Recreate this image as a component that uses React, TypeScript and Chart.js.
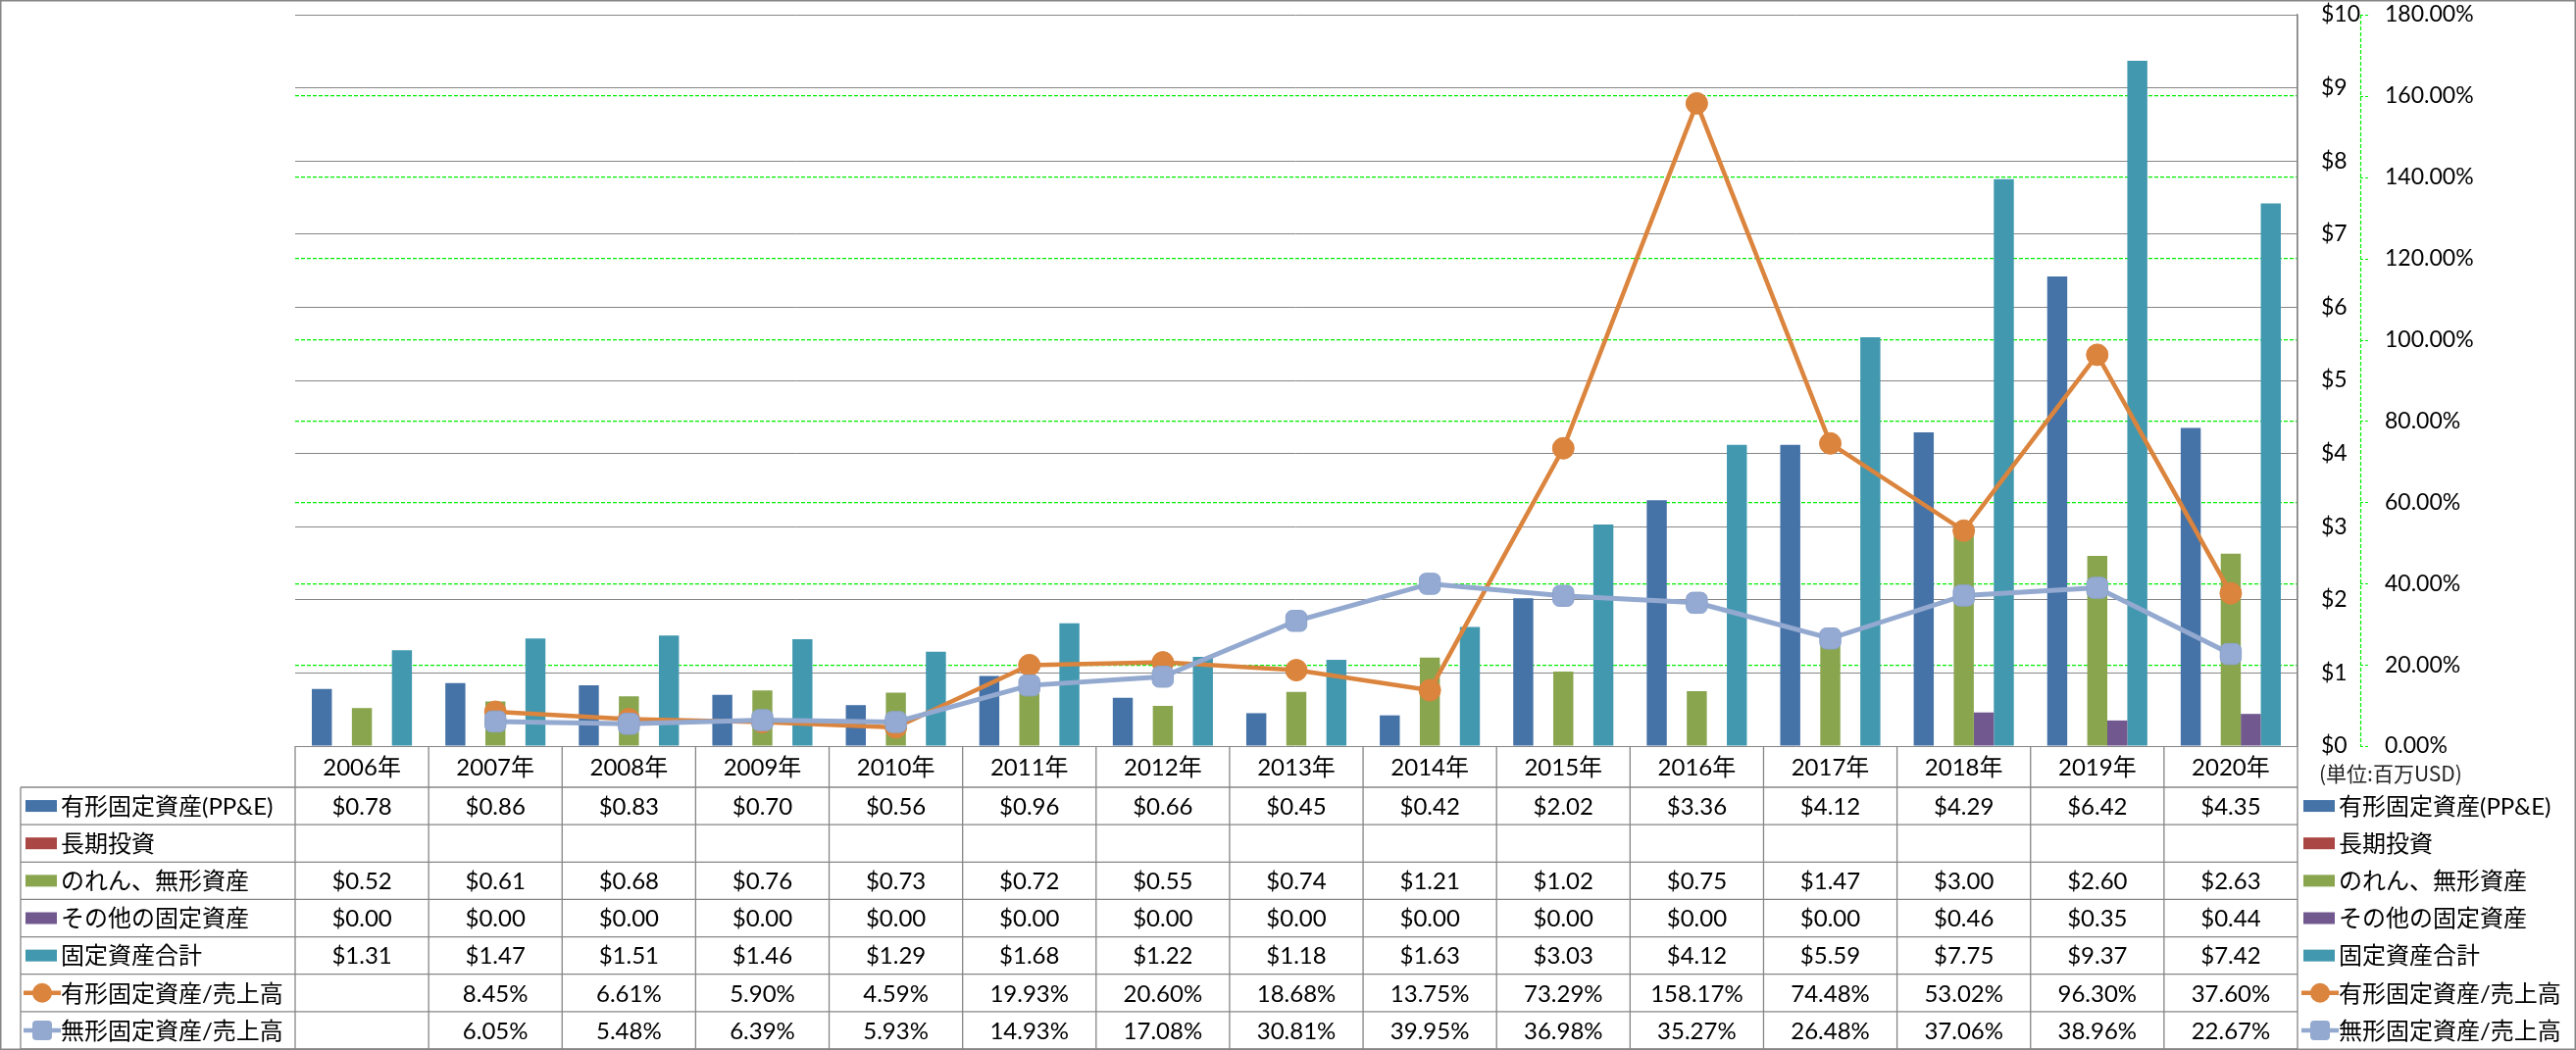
import React, { useEffect, useRef } from "react";
import { Chart, registerables } from "chart.js";

Chart.register(...registerables);

const categories = ["2006年", "2007年", "2008年", "2009年", "2010年", "2011年", "2012年", "2013年", "2014年", "2015年", "2016年", "2017年", "2018年", "2019年", "2020年"];
const seriesNames = ["有形固定資産(PP&E)", "長期投資", "のれん、無形資産", "その他の固定資産", "固定資産合計", "有形固定資産/売上高", "無形固定資産/売上高"];
const ppe = [0.78, 0.86, 0.83, 0.70, 0.56, 0.96, 0.66, 0.45, 0.42, 2.02, 3.36, 4.12, 4.29, 6.42, 4.35];
const longTermInvestments: (number | null)[] = [null, null, null, null, null, null, null, null, null, null, null, null, null, null, null];
const goodwillIntangibles = [0.52, 0.61, 0.68, 0.76, 0.73, 0.72, 0.55, 0.74, 1.21, 1.02, 0.75, 1.47, 3.00, 2.60, 2.63];
const otherFixedAssets = [0, 0, 0, 0, 0, 0, 0, 0, 0, 0, 0, 0, 0.46, 0.35, 0.44];
const totalFixedAssets = [1.31, 1.47, 1.51, 1.46, 1.29, 1.68, 1.22, 1.18, 1.63, 3.03, 4.12, 5.59, 7.75, 9.37, 7.42];
const ppeToSales: (number | null)[] = [null, 8.45, 6.61, 5.90, 4.59, 19.93, 20.60, 18.68, 13.75, 73.29, 158.17, 74.48, 53.02, 96.30, 37.60];
const intangibleToSales: (number | null)[] = [null, 6.05, 5.48, 6.39, 5.93, 14.93, 17.08, 30.81, 39.95, 36.98, 35.27, 26.48, 37.06, 38.96, 22.67];
const unitLabel = "(単位:百万USD)";

const COLORS = ["#4572A7", "#AA4643", "#89A54E", "#71588F", "#4198AF", "#DB843D", "#93A9CF"];
const GRAY = "#868686";
const GREEN = "#00ee00";
const FONT = "Lato, 'Noto Sans CJK JP', sans-serif";

// target plot area
const AREA = { left: 301, top: 15, right: 2343, bottom: 761 };

type Row = { name: string; color: string; kind: "bar" | "circle" | "square"; values: (number | null)[]; fmt: (v: number) => string };
const money = (v: number) => "$" + v.toFixed(2);
const pct = (v: number) => v.toFixed(2) + "%";
const rows: Row[] = [
  { name: seriesNames[0], color: COLORS[0], kind: "bar", values: ppe, fmt: money },
  { name: seriesNames[1], color: COLORS[1], kind: "bar", values: longTermInvestments, fmt: money },
  { name: seriesNames[2], color: COLORS[2], kind: "bar", values: goodwillIntangibles, fmt: money },
  { name: seriesNames[3], color: COLORS[3], kind: "bar", values: otherFixedAssets, fmt: money },
  { name: seriesNames[4], color: COLORS[4], kind: "bar", values: totalFixedAssets, fmt: money },
  { name: seriesNames[5], color: COLORS[5], kind: "circle", values: ppeToSales, fmt: pct },
  { name: seriesNames[6], color: COLORS[6], kind: "square", values: intangibleToSales, fmt: pct },
];

function drawSwatch(ctx: CanvasRenderingContext2D, row: Row, x: number, cy: number) {
  if (row.kind === "bar") {
    ctx.fillStyle = row.color;
    ctx.fillRect(x, cy - 6, 32, 12);
    return;
  }
  ctx.strokeStyle = row.color;
  ctx.lineWidth = 4.5;
  ctx.setLineDash([]);
  ctx.beginPath();
  ctx.moveTo(x - 2, cy);
  ctx.lineTo(x + 36, cy);
  ctx.stroke();
  ctx.fillStyle = row.color;
  const mx = x + 17;
  if (row.kind === "circle") {
    ctx.beginPath();
    ctx.arc(mx, cy, 10, 0, Math.PI * 2);
    ctx.fill();
  } else {
    const s = 20, r = 4;
    ctx.beginPath();
    ctx.moveTo(mx - s / 2 + r, cy - s / 2);
    ctx.arcTo(mx + s / 2, cy - s / 2, mx + s / 2, cy + s / 2, r);
    ctx.arcTo(mx + s / 2, cy + s / 2, mx - s / 2, cy + s / 2, r);
    ctx.arcTo(mx - s / 2, cy + s / 2, mx - s / 2, cy - s / 2, r);
    ctx.arcTo(mx - s / 2, cy - s / 2, mx + s / 2, cy - s / 2, r);
    ctx.closePath();
    ctx.fill();
  }
}

const tablePlugin = {
  id: "dataTable",
  afterDraw(chart: any) {
    const { ctx, chartArea, scales } = chart;
    const x = scales.x;
    const y1 = scales.y1;
    const W = chart.width;
    const H = chart.height;
    const n = categories.length;
    const colW = (chartArea.right - chartArea.left) / n;
    const top = chartArea.bottom;
    const headerBottom = top + 42;
    const tableBottom = H - 1;
    const rowH = (tableBottom - headerBottom) / rows.length;
    const labelLeft = 21;

    ctx.save();
    // dashed secondary axis line with short outward tick marks
    ctx.strokeStyle = GREEN;
    ctx.lineWidth = 1.2;
    ctx.setLineDash([4, 2]);
    ctx.beginPath();
    ctx.moveTo(y1.left + 0.5, chartArea.top);
    ctx.lineTo(y1.left + 0.5, chartArea.bottom);
    ctx.stroke();
    ctx.setLineDash([3, 2]);
    ctx.beginPath();
    y1.ticks.forEach((t: any) => {
      const py = Math.round(y1.getPixelForValue(t.value)) + 0.5;
      ctx.moveTo(y1.left, py);
      ctx.lineTo(y1.left + 9, py);
    });
    ctx.stroke();
    ctx.setLineDash([]);

    // table grid
    ctx.strokeStyle = GRAY;
    ctx.lineWidth = 1.3;
    ctx.beginPath();
    for (let r = 0; r <= rows.length; r++) {
      const yy = headerBottom + r * rowH;
      ctx.moveTo(labelLeft, yy);
      ctx.lineTo(chartArea.right, yy);
    }
    ctx.moveTo(labelLeft, headerBottom);
    ctx.lineTo(labelLeft, tableBottom);
    for (let i = 0; i <= n; i++) {
      const xx = i < n ? x.getPixelForValue(i) - colW / 2 : x.getPixelForValue(n - 1) + colW / 2;
      ctx.moveTo(xx, top);
      ctx.lineTo(xx, tableBottom);
    }
    ctx.moveTo(chartArea.right, chartArea.top);
    ctx.lineTo(chartArea.right, top);
    ctx.stroke();

    // header
    ctx.fillStyle = "#000";
    ctx.textBaseline = "middle";
    ctx.textAlign = "center";
    ctx.font = "24px " + FONT;
    for (let i = 0; i < n; i++) {
      ctx.fillText(categories[i], x.getPixelForValue(i), (top + headerBottom) / 2 + 1);
    }

    // rows
    rows.forEach((row, r) => {
      const cy = headerBottom + rowH * (r + 0.5);
      drawSwatch(ctx, row, 26, cy);
      drawSwatch(ctx, row, chartArea.right + 6, cy);
      ctx.fillStyle = "#000";
      ctx.textAlign = "left";
      ctx.font = "24px " + FONT;
      ctx.fillText(row.name, 62, cy + 1);
      ctx.fillText(row.name, chartArea.right + 42, cy + 1);
      ctx.textAlign = "center";
      ctx.font = "24px " + FONT;
      row.values.forEach((v, i) => {
        if (v === null || v === undefined) return;
        ctx.fillText(row.fmt(v), x.getPixelForValue(i), cy + 1);
      });
    });

    // unit label
    ctx.textAlign = "left";
    ctx.fillStyle = "#222";
    ctx.font = "21px 'Noto Sans CJK JP', sans-serif";
    ctx.fillText(unitLabel, chartArea.right + 22, top + 28);

    // outer border
    ctx.strokeStyle = GRAY;
    ctx.lineWidth = 1.5;
    ctx.strokeRect(0.75, 0.75, W - 1.5, H - 1.5);
    ctx.restore();
  },
};

export default function App() {
  const canvasRef = useRef<HTMLCanvasElement | null>(null);

  useEffect(() => {
    document.body.style.margin = "0";
    document.body.style.overflow = "hidden";
    const canvas = canvasRef.current;
    if (!canvas) return;
    Chart.defaults.font.family = FONT;
    const barCommon = { yAxisID: "y", categoryPercentage: 0.75, barPercentage: 1.0, borderWidth: 0 };
    const padding = { left: AREA.left, top: AREA.top, right: 0, bottom: 1071 - AREA.bottom };
    const options: any = {
      responsive: false,
      animation: false,
      devicePixelRatio: 1,
      layout: { padding },
      plugins: { legend: { display: false }, tooltip: { enabled: false }, title: { display: false } },
      scales: {
        x: { type: "category", display: false, offset: true, grid: { display: false } },
        y: {
          type: "linear",
          position: "right",
          min: 0,
          max: 10,
          afterFit: (s: any) => { s.width = 64; },
          ticks: { stepSize: 1, padding: 0, color: "#000", font: { size: 23, family: FONT }, callback: (v: any) => "$" + v },
          grid: { color: GRAY, lineWidth: 1, drawTicks: true, tickLength: 24, tickColor: "rgba(0,0,0,0)" },
          border: { display: true, color: GRAY, width: 1.3 },
        },
        y1: {
          type: "linear",
          position: "right",
          min: 0,
          max: 180,
          afterFit: (s: any) => { s.width = 220; },
          ticks: { stepSize: 20, padding: 0, color: "#000", font: { size: 23, family: FONT }, callback: (v: any) => Number(v).toFixed(2) + "%" },
          grid: {
            color: (c: any) => (c.tick && (c.tick.value === 0 || c.tick.value === 180) ? "rgba(0,0,0,0)" : GREEN),
            lineWidth: 1.2,
            drawTicks: true,
            tickLength: 25,
            tickColor: "rgba(0,0,0,0)",
          },
          border: { display: false, dash: [4, 2] },
        },
      },
    };
    const chart = new Chart(canvas, {
      type: "bar",
      data: {
        labels: categories,
        datasets: [
          { ...barCommon, type: "bar", label: seriesNames[0], data: ppe, backgroundColor: COLORS[0], order: 10 },
          { ...barCommon, type: "bar", label: seriesNames[1], data: longTermInvestments, backgroundColor: COLORS[1], order: 11 },
          { ...barCommon, type: "bar", label: seriesNames[2], data: goodwillIntangibles, backgroundColor: COLORS[2], order: 12 },
          { ...barCommon, type: "bar", label: seriesNames[3], data: otherFixedAssets, backgroundColor: COLORS[3], order: 13 },
          { ...barCommon, type: "bar", label: seriesNames[4], data: totalFixedAssets, backgroundColor: COLORS[4], order: 14 },
          {
            type: "line", label: seriesNames[5], data: ppeToSales, yAxisID: "y1", order: 1,
            borderColor: COLORS[5], backgroundColor: COLORS[5], borderWidth: 4.5, tension: 0,
            pointStyle: "circle", pointRadius: 11, pointBorderWidth: 1, pointBackgroundColor: COLORS[5], pointBorderColor: COLORS[5],
          },
          {
            type: "line", label: seriesNames[6], data: intangibleToSales, yAxisID: "y1", order: 0,
            borderColor: COLORS[6], backgroundColor: COLORS[6], borderWidth: 5, tension: 0,
            pointStyle: "rectRounded", pointRadius: 12.5, pointBorderWidth: 1, pointBackgroundColor: "#94AAD2", pointBorderColor: "#8CA3CC",
          },
        ] as any,
      },
      options,
      plugins: [tablePlugin],
    });
    // correct layout so that the value axis spans exactly the target box
    for (let k = 0; k < 4; k++) {
      const ys = chart.scales.y as any;
      const dTop = AREA.top - ys.getPixelForValue(10);
      const dBottom = ys.getPixelForValue(0) - AREA.bottom;
      const dLeft = AREA.left - chart.chartArea.left;
      if (Math.abs(dTop) < 0.5 && Math.abs(dBottom) < 0.5 && Math.abs(dLeft) < 0.5) break;
      const raw = (chart.config as any).options.layout.padding;
      raw.top += dTop;
      raw.bottom += dBottom;
      raw.left += dLeft;
      chart.update();
    }
    return () => chart.destroy();
  }, []);

  return (
    <div style={{ position: "absolute", left: 0, top: 0, width: 2627, height: 1071 }}>
      <canvas ref={canvasRef} width={2627} height={1071} style={{ display: "block", width: 2627, height: 1071 }} />
    </div>
  );
}
